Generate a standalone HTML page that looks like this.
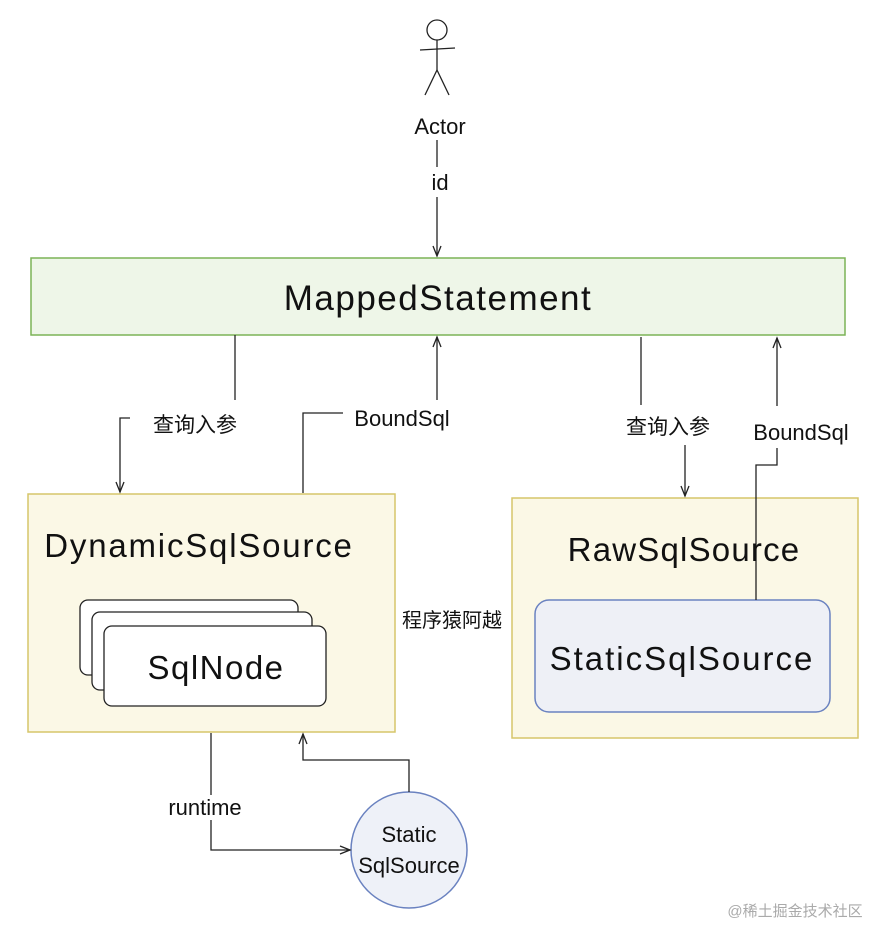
<!DOCTYPE html>
<html><head><meta charset="utf-8"><style>
html,body{margin:0;padding:0;background:#fff;width:880px;height:926px;overflow:hidden}
svg text{font-family:"Liberation Sans","Noto Sans CJK SC",sans-serif;fill:#111}
</style></head><body>
<svg width="880" height="926" viewBox="0 0 880 926" xmlns="http://www.w3.org/2000/svg">
<g stroke="#222" stroke-width="1.3" fill="none">
<circle cx="437" cy="30" r="10"/>
<line x1="437" y1="40" x2="437" y2="70"/>
<line x1="420" y1="50" x2="455" y2="48"/>
<line x1="437" y1="70" x2="425" y2="95"/>
<line x1="437" y1="70" x2="449" y2="95"/>
<line x1="437" y1="140" x2="437" y2="167"/>
<line x1="437" y1="197" x2="437" y2="255"/>
<path d="M433 246 L437 256 L441 246"/>
</g>
<rect x="31" y="258" width="814" height="77" fill="#eef6e8" stroke="#7cb357" stroke-width="1.5"/>
<rect x="28" y="494" width="367" height="238" fill="#fbf8e6" stroke="#d6c66a" stroke-width="1.5"/>
<rect x="512" y="498" width="346" height="240" fill="#fbf8e6" stroke="#d6c66a" stroke-width="1.5"/>
<g stroke="#222" stroke-width="1.3" fill="#fff">
<rect x="80" y="600" width="218" height="75" rx="8"/>
<rect x="92" y="612" width="220" height="78" rx="8"/>
<rect x="104" y="626" width="222" height="80" rx="8"/>
</g>
<rect x="535" y="600" width="295" height="112" rx="14" fill="#eef0f6" stroke="#6a82c0" stroke-width="1.5"/>
<circle cx="409" cy="850" r="58" fill="#eef1f8" stroke="#6a82c0" stroke-width="1.5"/>
<g stroke="#222" stroke-width="1.3" fill="none">
<line x1="235" y1="335" x2="235" y2="400"/>
<path d="M130 418 L120 418 L120 492"/>
<path d="M116 482 L120 492 L124 482"/>
<path d="M303 493 L303 413 L343 413"/>
<line x1="437" y1="400" x2="437" y2="337"/>
<path d="M433 347 L437 337 L441 347"/>
<line x1="641" y1="337" x2="641" y2="405"/>
<line x1="685" y1="445" x2="685" y2="496"/>
<path d="M681 486 L685 496 L689 486"/>
<path d="M756 600 L756 465 L777 465 L777 448"/>
<line x1="777" y1="406" x2="777" y2="338"/>
<path d="M773 348 L777 338 L781 348"/>
<line x1="211" y1="733" x2="211" y2="795"/>
<path d="M211 820 L211 850 L350 850"/>
<path d="M340 846 L350 850 L340 854"/>
<path d="M409 792 L409 760 L303 760 L303 734"/>
<path d="M299 744 L303 734 L307 744"/>
</g>
<text x="440" y="134" font-size="22" text-anchor="middle">Actor</text>
<text x="440" y="190" font-size="22" text-anchor="middle">id</text>
<text x="438" y="310" font-size="35" text-anchor="middle" letter-spacing="1.5">MappedStatement</text>
<text x="195" y="432" font-size="21" text-anchor="middle">查询入参</text>
<text x="402" y="426" font-size="22" text-anchor="middle">BoundSql</text>
<text x="668" y="434" font-size="21" text-anchor="middle">查询入参</text>
<text x="801" y="440" font-size="22" text-anchor="middle">BoundSql</text>
<text x="199" y="557" font-size="33" text-anchor="middle" letter-spacing="1.8">DynamicSqlSource</text>
<text x="216" y="679" font-size="33" text-anchor="middle" letter-spacing="1.5">SqlNode</text>
<text x="684" y="561" font-size="33" text-anchor="middle" letter-spacing="1.2">RawSqlSource</text>
<text x="682" y="670" font-size="33" text-anchor="middle" letter-spacing="2">StaticSqlSource</text>
<text x="452" y="627" font-size="20" text-anchor="middle">程序猿阿越</text>
<text x="205" y="815" font-size="22" text-anchor="middle">runtime</text>
<text x="409" y="842" font-size="22" text-anchor="middle">Static</text>
<text x="409" y="873" font-size="22" text-anchor="middle">SqlSource</text>
<text x="795" y="916" font-size="15" text-anchor="middle" style="fill:#aaa">@稀土掘金技术社区</text>
</svg>
</body></html>
